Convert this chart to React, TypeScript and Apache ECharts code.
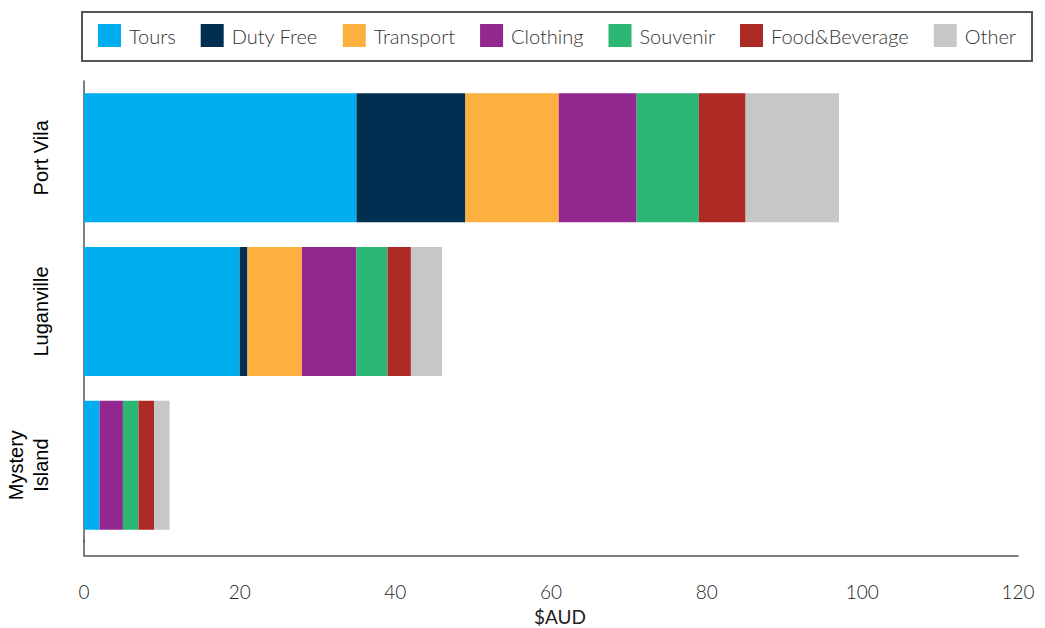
import React, { useEffect, useRef } from "react";
import * as echarts from "echarts";

const categories = ["Port Vila", "Luganville", "Mystery\nIsland"];
const seriesNames = ["Tours", "Duty Free", "Transport", "Clothing", "Souvenir", "Food&Beverage", "Other"];
const colors = ["#00AEEF", "#002F52", "#FBB040", "#92278F", "#2BB673", "#AD2A24", "#C6C7C9"];
const tours = [35, 20, 2];
const dutyFree = [14, 1, 0];
const transport = [12, 7, 0];
const clothing = [10, 7, 3];
const souvenir = [8, 4, 2];
const foodBeverage = [6, 3, 2];
const other = [12, 4, 2];
const seriesValues = [tours, dutyFree, transport, clothing, souvenir, foodBeverage, other];
const xTicks = { min: 0, max: 120, interval: 20 };

export default function App() {
  const ref = useRef<HTMLDivElement>(null);
  useEffect(() => {
    if (!ref.current) return;
    const chart = echarts.init(ref.current, null, { renderer: "svg" });
    chart.setOption({
      animation: false,
      textStyle: { fontFamily: "Lato" },
      graphic: [
        {
          type: "rect",
          shape: { x: 82, y: 12, width: 950, height: 49 },
          style: { fill: "none", stroke: "#555", lineWidth: 2 },
        },
        {
          type: "line",
          shape: { x1: 84, y1: 540, x2: 84, y2: 556 },
          style: { stroke: "#555", lineWidth: 1.5 },
        },
      ],
      legend: {
        left: 98,
        top: 24,
        padding: 0,
        itemWidth: 23,
        itemHeight: 23,
        itemGap: 25,
        icon: "rect",
        textStyle: { fontFamily: "Lato", fontWeight: 300, fontSize: 20, color: "#333", padding: [0, 0, 0, 3] },
        data: seriesNames,
      },
      grid: { left: 84, right: 27, top: 81, bottom: 86, containLabel: false, outerBoundsMode: "none" },
      xAxis: {
        type: "value",
        min: xTicks.min,
        max: xTicks.max,
        interval: xTicks.interval,
        offset: 14,
        name: "$AUD",
        nameLocation: "middle",
        nameGap: 51,
        nameTextStyle: { fontFamily: "Lato", fontSize: 19, color: "#222", padding: [0, 0, 0, 18] },
        axisLine: { show: true, lineStyle: { color: "#555", width: 1.5 } },
        axisTick: { show: false },
        splitLine: { show: false },
        axisLabel: { margin: 26, fontFamily: "Lato", fontWeight: 300, fontSize: 19, color: "#222" },
      },
      yAxis: {
        type: "category",
        inverse: true,
        data: categories,
        axisLine: { show: true, lineStyle: { color: "#555", width: 1.5 } },
        axisTick: { show: false },
        axisLabel: {
          rotate: 90,
          margin: 31,
          fontFamily: "Liberation Sans",
          fontSize: 20,
          color: "#000",
          lineHeight: 25,
        },
      },
      series: seriesNames.map((name, i) => ({
        name,
        type: "bar",
        stack: "total",
        barWidth: "84%",
        itemStyle: { color: colors[i] },
        emphasis: { disabled: true },
        data: seriesValues[i],
      })),
    });
    return () => chart.dispose();
  }, []);
  return <div ref={ref} style={{ width: 1045, height: 628, position: "absolute", left: 0, top: 0 }} />;
}
